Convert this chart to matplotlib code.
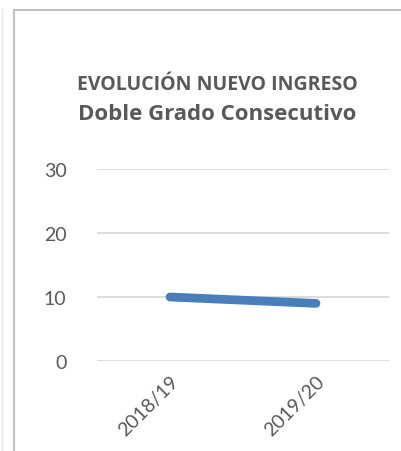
import matplotlib.pyplot as plt
from matplotlib.patches import Rectangle

# data
cursos = ["2018/19", "2019/20"]
nuevo_ingreso = [10, 9]
yticks = [0, 10, 20, 30]

W, H = 401, 452
gris = "#595959"
plt.rcParams['font.family'] = ['Lato', 'DejaVu Sans']

fig = plt.figure(figsize=(W / 100, H / 100), dpi=100)

# chart frame (cut off on the right and bottom, like the screenshot)
fig.patches.append(Rectangle((13.5 / W, -0.1), 1.2, 1 - 10.5 / H + 0.1, transform=fig.transFigure,
                             fill=False, edgecolor="#bfbfbf", linewidth=1.5))
fig.add_artist(plt.Line2D([1.5 / W, 1.5 / W], [0, 1 - 10 / H], transform=fig.transFigure,
                          color="#e6e6e6", linewidth=1))

left, right = 97 / W, 389 / W
bottom, top = 1 - 362 / H, 1 - 170 / H
ax = fig.add_axes([left, bottom, right - left, top - bottom])

x = range(len(cursos))
ax.plot(x, nuevo_ingreso, color="#4a7ebb", linewidth=6.3, solid_capstyle="round")

ax.set_xlim(-0.5, len(cursos) - 0.5)
ax.set_ylim(0, 30)
ax.set_yticks(yticks)
ax.set_xticks(list(x))
ax.set_xticklabels(cursos, rotation=45, ha="right", va="top", rotation_mode="anchor")
ax.grid(axis="y", color="#d9d9d9", linewidth=1.3)
ax.set_axisbelow(True)
for s in ax.spines.values():
    s.set_visible(False)
ax.tick_params(axis="both", length=0, colors=gris, labelsize=14)
ax.tick_params(axis="y", pad=22)
ax.tick_params(axis="x", pad=8)

fig.text(217 / W, 1 - 85 / H, "EVOLUCIÓN NUEVO INGRESO", ha="center", va="center",
         fontsize=14, fontweight="bold", color=gris, family="Open Sans")
fig.text(217 / W, 1 - 114 / H, "Doble Grado Consecutivo", ha="center", va="center",
         fontsize=16, fontweight="bold", color=gris, family="Open Sans")

fig.savefig("out.png", dpi=100, facecolor="white")
